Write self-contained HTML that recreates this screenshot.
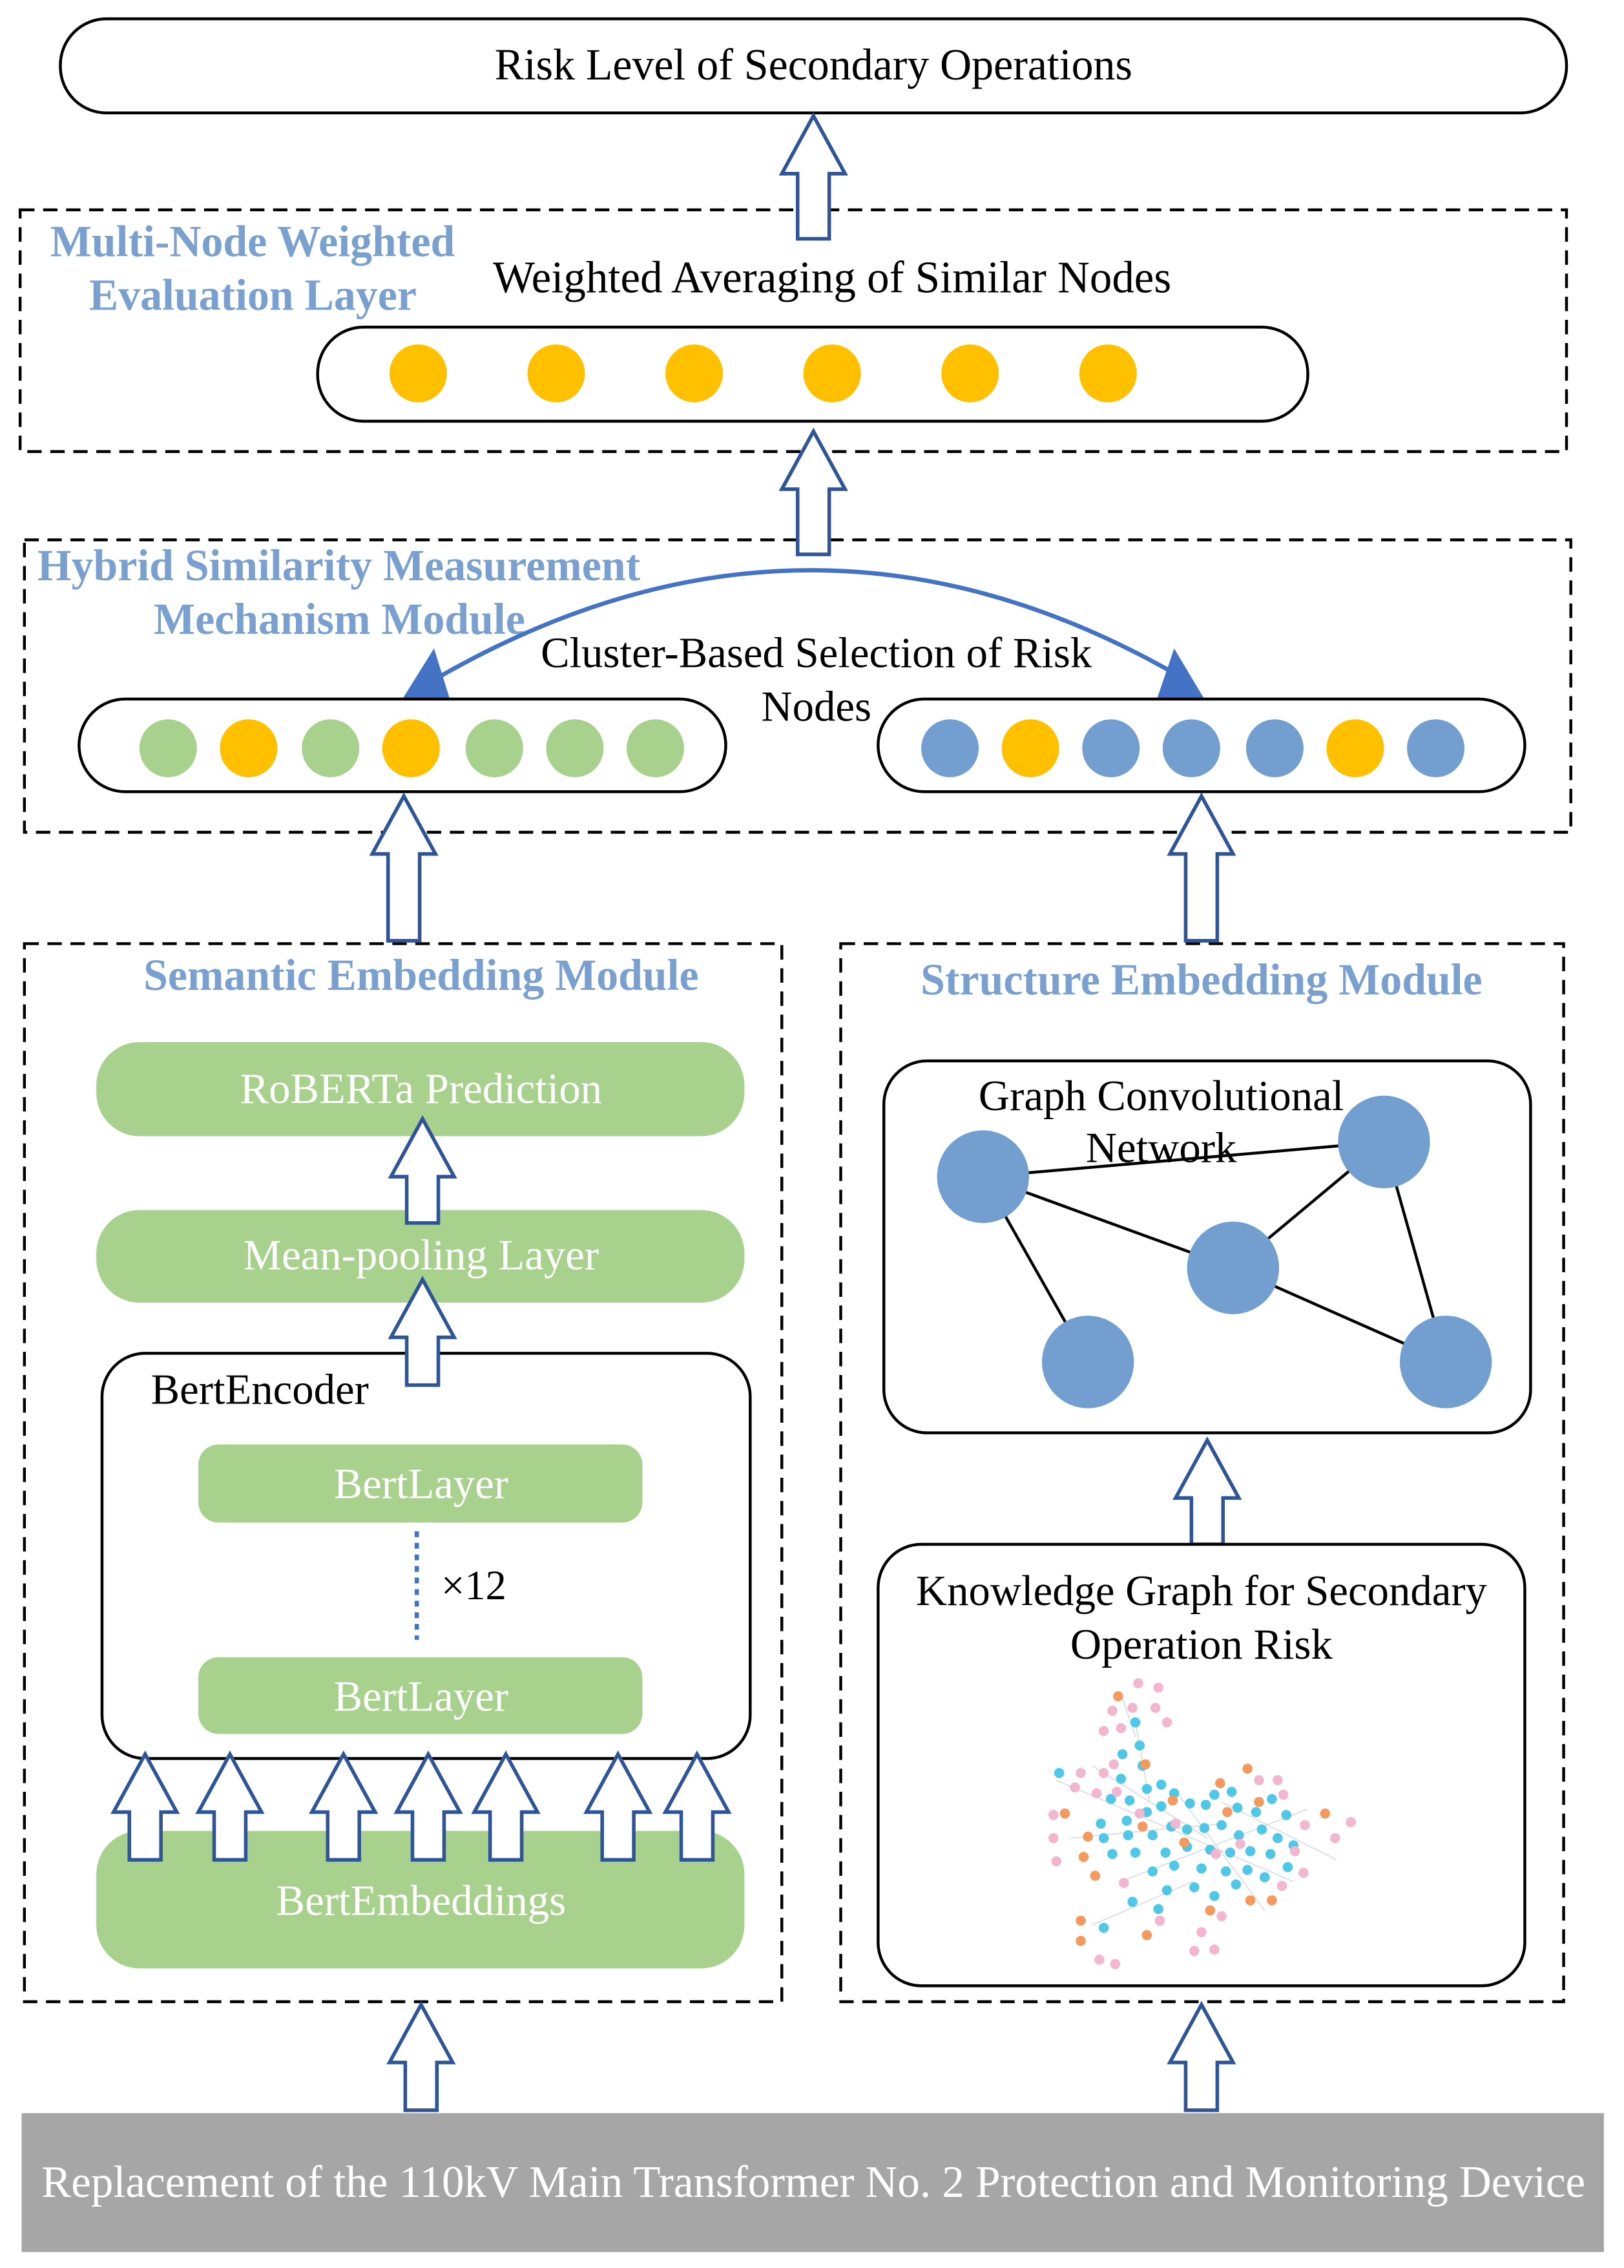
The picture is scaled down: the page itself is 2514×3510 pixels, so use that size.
<!DOCTYPE html>
<html><head><meta charset="utf-8"><style>
html,body{margin:0;padding:0;background:#fff}
svg{display:block}
text{font-family:"Liberation Serif",serif}
</style></head><body>
<svg width="2514" height="3510" viewBox="0 0 1130 1567" preserveAspectRatio="none" xmlns="http://www.w3.org/2000/svg">
<defs>
<g id="ar"><path d="M0,0 L22,40 L11,40 L11,85 L-11,85 L-11,40 L-22,40 Z" fill="#fff" stroke="#2f5597" stroke-width="2.5" stroke-linejoin="miter"/></g>
</defs>
<rect x="42" y="13" width="1048" height="65" rx="32" fill="#fff" stroke="#000" stroke-width="2"/>
<text x="566" y="55" font-size="30.5" text-anchor="middle">Risk Level of Secondary Operations</text>
<rect x="14" y="145" width="1076" height="167" fill="none" stroke="#000" stroke-width="2" stroke-dasharray="10,6"/>
<use href="#ar" transform="translate(566,80)"/>
<text x="35" y="177" font-size="30.5" font-weight="bold" fill="#7aa0cf">Multi-Node Weighted</text>
<text x="62" y="214" font-size="30.5" font-weight="bold" fill="#7aa0cf">Evaluation Layer</text>
<text x="579" y="202" font-size="31" text-anchor="middle">Weighted Averaging of Similar Nodes</text>
<rect x="221" y="226" width="689" height="65" rx="32" fill="#fff" stroke="#000" stroke-width="2"/>
<g fill="#ffc000"><circle cx="291" cy="258" r="20"/><circle cx="387" cy="258" r="20"/><circle cx="483" cy="258" r="20"/><circle cx="579" cy="258" r="20"/><circle cx="675" cy="258" r="20"/><circle cx="771" cy="258" r="20"/></g>
<rect x="17" y="373" width="1076" height="202" fill="none" stroke="#000" stroke-width="2" stroke-dasharray="10,6"/>
<use href="#ar" transform="translate(566,298)"/>
<text x="26" y="401" font-size="30.5" font-weight="bold" fill="#7aa0cf">Hybrid Similarity Measurement</text>
<text x="107" y="438" font-size="30.5" font-weight="bold" fill="#7aa0cf">Mechanism Module</text>
<path d="M305,468 Q565,320 822,468" fill="none" stroke="#4472c4" stroke-width="3"/>
<polygon points="280,483 313,483 302,448" fill="#4472c4"/>
<polygon points="805,483 838,483 817,448" fill="#4472c4"/>
<text x="568" y="461" font-size="30" text-anchor="middle">Cluster-Based Selection of Risk</text>
<text x="568" y="498" font-size="30" text-anchor="middle">Nodes</text>
<rect x="55" y="483" width="450" height="64" rx="32" fill="#fff" stroke="#000" stroke-width="2"/>
<rect x="611" y="483" width="450" height="64" rx="32" fill="#fff" stroke="#000" stroke-width="2"/>
<g>
<circle cx="117" cy="517" r="20" fill="#a9d18e"/><circle cx="173" cy="517" r="20" fill="#ffc000"/><circle cx="230" cy="517" r="20" fill="#a9d18e"/><circle cx="286" cy="517" r="20" fill="#ffc000"/><circle cx="344" cy="517" r="20" fill="#a9d18e"/><circle cx="400" cy="517" r="20" fill="#a9d18e"/><circle cx="456" cy="517" r="20" fill="#a9d18e"/>
<circle cx="661" cy="517" r="20" fill="#729fcf"/><circle cx="717" cy="517" r="20" fill="#ffc000"/><circle cx="773" cy="517" r="20" fill="#729fcf"/><circle cx="829" cy="517" r="20" fill="#729fcf"/><circle cx="887" cy="517" r="20" fill="#729fcf"/><circle cx="943" cy="517" r="20" fill="#ffc000"/><circle cx="999" cy="517" r="20" fill="#729fcf"/>
</g>
<rect x="17" y="652" width="527" height="731" fill="none" stroke="#000" stroke-width="2" stroke-dasharray="10,6"/>
<rect x="585" y="652" width="503" height="731" fill="none" stroke="#000" stroke-width="2" stroke-dasharray="10,6"/>
<path d="M281,550 L303,590 L292,590 L292,650 L270,650 L270,590 L259,590 Z" fill="#fff" stroke="#2f5597" stroke-width="2.5"/>
<path d="M836,550 L858,590 L847,590 L847,650 L825,650 L825,590 L814,590 Z" fill="#fff" stroke="#2f5597" stroke-width="2.5"/>
<text x="293" y="684" font-size="30.5" font-weight="bold" fill="#7aa0cf" text-anchor="middle">Semantic Embedding Module</text>
<text x="836" y="687" font-size="30.5" font-weight="bold" fill="#7aa0cf" text-anchor="middle">Structure Embedding Module</text>
<rect x="67" y="720" width="451" height="65" rx="30" fill="#a9d18e"/>
<text x="293" y="762" font-size="30" fill="#fff" text-anchor="middle">RoBERTa Prediction</text>
<rect x="67" y="836" width="451" height="64" rx="30" fill="#a9d18e"/>
<text x="293" y="877" font-size="30" fill="#fff" text-anchor="middle">Mean-pooling Layer</text>
<rect x="71" y="935" width="451" height="280" rx="30" fill="#fff" stroke="#000" stroke-width="2"/>
<path d="M294,773 L316,813 L305,813 L305,845 L283,845 L283,813 L272,813 Z" fill="#fff" stroke="#2f5597" stroke-width="2.5"/>
<path d="M294,884 L316,924 L305,924 L305,957 L283,957 L283,924 L272,924 Z" fill="#fff" stroke="#2f5597" stroke-width="2.5"/>
<text x="105" y="970" font-size="30">BertEncoder</text>
<rect x="138" y="998" width="309" height="54" rx="14" fill="#a9d18e"/>
<text x="293" y="1035" font-size="30" fill="#fff" text-anchor="middle">BertLayer</text>
<line x1="290" y1="1058" x2="290" y2="1133" stroke="#4472c4" stroke-width="3" stroke-dasharray="4,4"/>
<text x="307" y="1105" font-size="29">×12</text>
<rect x="138" y="1145" width="309" height="53" rx="14" fill="#a9d18e"/>
<text x="293" y="1182" font-size="30" fill="#fff" text-anchor="middle">BertLayer</text>
<rect x="67" y="1265" width="451" height="95" rx="30" fill="#a9d18e"/>
<text x="293" y="1323" font-size="30" fill="#fff" text-anchor="middle">BertEmbeddings</text>
<g fill="#fff" stroke="#2f5597" stroke-width="2.5">
<path d="M101,1212 L123,1252 L112,1252 L112,1285 L90,1285 L90,1252 L79,1252 Z"/>
<path d="M160,1212 L182,1252 L171,1252 L171,1285 L149,1285 L149,1252 L138,1252 Z"/>
<path d="M239,1212 L261,1252 L250,1252 L250,1285 L228,1285 L228,1252 L217,1252 Z"/>
<path d="M298,1212 L320,1252 L309,1252 L309,1285 L287,1285 L287,1252 L276,1252 Z"/>
<path d="M352,1212 L374,1252 L363,1252 L363,1285 L341,1285 L341,1252 L330,1252 Z"/>
<path d="M430,1212 L452,1252 L441,1252 L441,1285 L419,1285 L419,1252 L408,1252 Z"/>
<path d="M485,1212 L507,1252 L496,1252 L496,1285 L474,1285 L474,1252 L463,1252 Z"/>
</g>
<rect x="615" y="733" width="450" height="257" rx="30" fill="#fff" stroke="#000" stroke-width="2"/>
<g stroke="#000" stroke-width="2">
<line x1="684" y1="813" x2="963" y2="789"/><line x1="684" y1="813" x2="858" y2="876"/><line x1="684" y1="813" x2="757" y2="941"/><line x1="858" y1="876" x2="963" y2="789"/><line x1="963" y1="789" x2="1006" y2="941"/><line x1="858" y1="876" x2="1006" y2="941"/>
</g>
<g fill="#729fcf"><circle cx="684" cy="813" r="32"/><circle cx="963" cy="789" r="32"/><circle cx="858" cy="876" r="32"/><circle cx="757" cy="941" r="32"/><circle cx="1006" cy="941" r="32"/></g>
<text x="808" y="767" font-size="30" text-anchor="middle">Graph Convolutional</text>
<text x="808" y="803" font-size="30" text-anchor="middle">Network</text>
<path d="M840,995 L862,1035 L851,1035 L851,1067 L829,1067 L829,1035 L818,1035 Z" fill="#fff" stroke="#2f5597" stroke-width="2.5"/>
<rect x="611" y="1067" width="450" height="305" rx="30" fill="#fff" stroke="#000" stroke-width="2"/>
<text x="836" y="1109" font-size="30" text-anchor="middle">Knowledge Graph for Secondary</text>
<text x="836" y="1146" font-size="30" text-anchor="middle">Operation Risk</text>
<g stroke="#d8dde3" stroke-width="0.8">
<line x1="790" y1="1190" x2="800" y2="1245"/><line x1="760" y1="1220" x2="840" y2="1270"/><line x1="735" y1="1230" x2="900" y2="1300"/><line x1="780" y1="1300" x2="910" y2="1250"/><line x1="760" y1="1330" x2="830" y2="1300"/><line x1="820" y1="1240" x2="880" y2="1320"/><line x1="850" y1="1245" x2="930" y2="1285"/><line x1="790" y1="1200" x2="780" y2="1170"/><line x1="745" y1="1270" x2="850" y2="1260"/>
</g>
<g fill="#4fc8e8">
<circle cx="790" cy="1190" r="3.5"/><circle cx="793" cy="1206" r="3.5"/><circle cx="781" cy="1212" r="3.5"/><circle cx="795" cy="1220" r="3.5"/><circle cx="780" cy="1229" r="3.5"/><circle cx="737" cy="1225" r="3.5"/><circle cx="773" cy="1243" r="3.5"/><circle cx="786" cy="1244" r="3.5"/><circle cx="798" cy="1236" r="3.5"/><circle cx="808" cy="1233" r="3.5"/><circle cx="817" cy="1239" r="3.5"/><circle cx="784" cy="1258" r="3.5"/><circle cx="798" cy="1252" r="3.5"/><circle cx="808" cy="1248" r="3.5"/><circle cx="828" cy="1246" r="3.5"/><circle cx="839" cy="1247" r="3.5"/><circle cx="845" cy="1240" r="3.5"/><circle cx="857" cy="1238" r="3.5"/><circle cx="861" cy="1249" r="3.5"/><circle cx="874" cy="1252" r="3.5"/><circle cx="885" cy="1243" r="3.5"/><circle cx="895" cy="1254" r="3.5"/><circle cx="768" cy="1270" r="3.5"/><circle cx="766" cy="1260" r="3.5"/><circle cx="785" cy="1268" r="3.5"/><circle cx="802" cy="1268" r="3.5"/><circle cx="815" cy="1262" r="3.5"/><circle cx="826" cy="1264" r="3.5"/><circle cx="838" cy="1263" r="3.5"/><circle cx="850" cy="1261" r="3.5"/><circle cx="862" cy="1268" r="3.5"/><circle cx="878" cy="1264" r="3.5"/><circle cx="889" cy="1270" r="3.5"/><circle cx="900" cy="1275" r="3.5"/><circle cx="774" cy="1281" r="3.5"/><circle cx="790" cy="1280" r="3.5"/><circle cx="811" cy="1280" r="3.5"/><circle cx="826" cy="1276" r="3.5"/><circle cx="842" cy="1278" r="3.5"/><circle cx="856" cy="1280" r="3.5"/><circle cx="870" cy="1279" r="3.5"/><circle cx="884" cy="1281" r="3.5"/><circle cx="896" cy="1290" r="3.5"/><circle cx="802" cy="1293" r="3.5"/><circle cx="817" cy="1289" r="3.5"/><circle cx="836" cy="1291" r="3.5"/><circle cx="853" cy="1293" r="3.5"/><circle cx="868" cy="1292" r="3.5"/><circle cx="880" cy="1297" r="3.5"/><circle cx="812" cy="1306" r="3.5"/><circle cx="831" cy="1304" r="3.5"/><circle cx="845" cy="1310" r="3.5"/><circle cx="860" cy="1302" r="3.5"/><circle cx="788" cy="1314" r="3.5"/><circle cx="806" cy="1319" r="3.5"/><circle cx="768" cy="1332" r="3.5"/>
</g>
<g fill="#f59a5e">
<circle cx="778" cy="1172" r="3.5"/><circle cx="797" cy="1219" r="3.5"/><circle cx="741" cy="1253" r="3.5"/><circle cx="795" cy="1262" r="3.5"/><circle cx="816" cy="1244" r="3.5"/><circle cx="824" cy="1273" r="3.5"/><circle cx="854" cy="1252" r="3.5"/><circle cx="849" cy="1232" r="3.5"/><circle cx="868" cy="1222" r="3.5"/><circle cx="876" cy="1245" r="3.5"/><circle cx="922" cy="1253" r="3.5"/><circle cx="757" cy="1269" r="3.5"/><circle cx="754" cy="1283" r="3.5"/><circle cx="762" cy="1296" r="3.5"/><circle cx="870" cy="1313" r="3.5"/><circle cx="885" cy="1313" r="3.5"/><circle cx="842" cy="1320" r="3.5"/><circle cx="752" cy="1327" r="3.5"/><circle cx="752" cy="1341" r="3.5"/><circle cx="798" cy="1337" r="3.5"/>
</g>
<g fill="#f2b6cf">
<circle cx="792" cy="1163" r="3.5"/><circle cx="806" cy="1166" r="3.5"/><circle cx="788" cy="1180" r="3.5"/><circle cx="804" cy="1180" r="3.5"/><circle cx="774" cy="1182" r="3.5"/><circle cx="768" cy="1196" r="3.5"/><circle cx="780" cy="1194" r="3.5"/><circle cx="812" cy="1190" r="3.5"/><circle cx="775" cy="1219" r="3.5"/><circle cx="752" cy="1225" r="3.5"/><circle cx="768" cy="1225" r="3.5"/><circle cx="763" cy="1239" r="3.5"/><circle cx="748" cy="1235" r="3.5"/><circle cx="777" cy="1238" r="3.5"/><circle cx="733" cy="1254" r="3.5"/><circle cx="733" cy="1270" r="3.5"/><circle cx="735" cy="1286" r="3.5"/><circle cx="793" cy="1253" r="3.5"/><circle cx="889" cy="1230" r="3.5"/><circle cx="876" cy="1230" r="3.5"/><circle cx="893" cy="1240" r="3.5"/><circle cx="940" cy="1259" r="3.5"/><circle cx="929" cy="1270" r="3.5"/><circle cx="908" cy="1261" r="3.5"/><circle cx="901" cy="1279" r="3.5"/><circle cx="863" cy="1274" r="3.5"/><circle cx="818" cy="1260" r="3.5"/><circle cx="846" cy="1281" r="3.5"/><circle cx="907" cy="1294" r="3.5"/><circle cx="892" cy="1303" r="3.5"/><circle cx="782" cy="1301" r="3.5"/><circle cx="807" cy="1327" r="3.5"/><circle cx="850" cy="1324" r="3.5"/><circle cx="836" cy="1335" r="3.5"/><circle cx="831" cy="1348" r="3.5"/><circle cx="845" cy="1347" r="3.5"/><circle cx="765" cy="1354" r="3.5"/><circle cx="776" cy="1357" r="3.5"/>
</g>
<path d="M293,1385 L315,1425 L304,1425 L304,1458 L282,1458 L282,1425 L271,1425 Z" fill="#fff" stroke="#2f5597" stroke-width="2.5"/>
<path d="M836,1385 L858,1425 L847,1425 L847,1458 L825,1458 L825,1425 L814,1425 Z" fill="#fff" stroke="#2f5597" stroke-width="2.5"/>
<rect x="15" y="1460" width="1101" height="96" fill="#a6a6a6"/>
<text x="566" y="1518" font-size="31" fill="#fff" text-anchor="middle">Replacement of the 110kV Main Transformer No. 2 Protection and Monitoring Device</text>
</svg>
</body></html>
